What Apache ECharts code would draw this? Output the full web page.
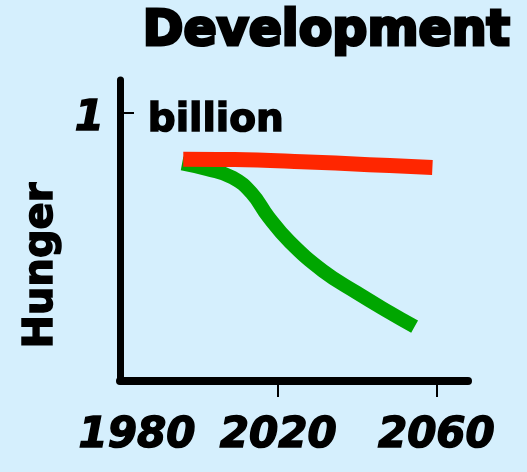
<!DOCTYPE html>
<html>
<head>
<meta charset="utf-8">
<script src="https://cdn.jsdelivr.net/npm/echarts@6/dist/echarts.min.js"></script>
<style>
html,body{margin:0;padding:0;background:#d5effd;}
#chart{width:527px;height:472px;}
</style>
</head>
<body>
<div id="chart"></div>
<script>
var titleText = 'Development';
var yAxisName = 'Hunger';
var unitText = 'billion';
var xTickValues = [1980, 2020, 2060];
var xTickMarks = [2020, 2060];
var yTickValues = [1];
var businessAsUsual = [[1996, 0.825], [2009, 0.824], [2026, 0.816], [2043, 0.805], [2059, 0.794]];
var development = [[1995.7, 0.81], [2002.2, 0.788], [2008.5, 0.757], [2013.3, 0.699], [2017.5, 0.611], [2022.9, 0.518], [2031.3, 0.41], [2039.7, 0.33], [2048.2, 0.255], [2054.5, 0.202]];

var FONT = 'DejaVu Sans';
var LABEL_STYLE = {fontFamily: FONT, fontWeight: 'bold', fontStyle: 'italic', fontSize: 42, color: '#000', textBorderColor: '#000', textBorderWidth: 1.5};
var chart = echarts.init(document.getElementById('chart'));
chart.setOption({
  backgroundColor: '#d5effd',
  animation: false,
  title: {
    text: titleText,
    right: 9,
    top: 3,
    textStyle: {fontFamily: FONT, fontWeight: 'bold', fontSize: 49, color: '#000', textBorderColor: '#000', textBorderWidth: 3}
  },
  grid: {left: 120, right: 59, top: 80, bottom: 91},
  xAxis: {
    type: 'value',
    min: 1980,
    max: 2068,
    interval: 40,
    axisLine: {lineStyle: {color: '#000', width: 8}},
    axisTick: {show: true, customValues: xTickMarks, length: 16, lineStyle: {color: '#000', width: 2}},
    axisLabel: Object.assign({}, LABEL_STYLE, {
      customValues: xTickValues,
      margin: 34,
      formatter: function (v) { return v === 1980 ? '{s|1980}' : String(v); },
      rich: {s: Object.assign({}, LABEL_STYLE, {padding: [0, 0, 0, 34]})}
    }),
    splitLine: {show: false}
  },
  yAxis: {
    type: 'value',
    min: 0,
    max: 1.12,
    name: yAxisName,
    nameLocation: 'middle',
    nameGap: 58,
    nameTextStyle: {fontFamily: FONT, fontWeight: 'bold', fontSize: 40, color: '#000', textBorderColor: '#000', textBorderWidth: 1.5, padding: [0, 70, 0, 0]},
    axisLine: {show: true, lineStyle: {color: '#000', width: 7}},
    axisTick: {show: true, inside: true, customValues: yTickValues, length: 14, lineStyle: {color: '#000', width: 2}},
    axisLabel: Object.assign({}, LABEL_STYLE, {
      customValues: yTickValues,
      margin: 16,
      formatter: function (v) { return '{s|' + v + '}'; },
      rich: {s: Object.assign({}, LABEL_STYLE, {padding: [14, 0, 0, 0]})}
    }),
    splitLine: {show: false}
  },
  graphic: [{
    type: 'text',
    left: 147,
    top: 101,
    style: {text: unitText, fontFamily: FONT, fontWeight: 'bold', fontSize: 39, fill: '#000', stroke: '#000', lineWidth: 1.5}
  }],
  series: [{
    type: 'line',
    data: development,
    smooth: 0.45,
    showSymbol: false,
    lineStyle: {color: '#00a600', width: 14}
  }, {
    type: 'line',
    data: businessAsUsual,
    smooth: 0.4,
    showSymbol: false,
    lineStyle: {color: '#ff2600', width: 15}
  }]
});
</script>
</body>
</html>
